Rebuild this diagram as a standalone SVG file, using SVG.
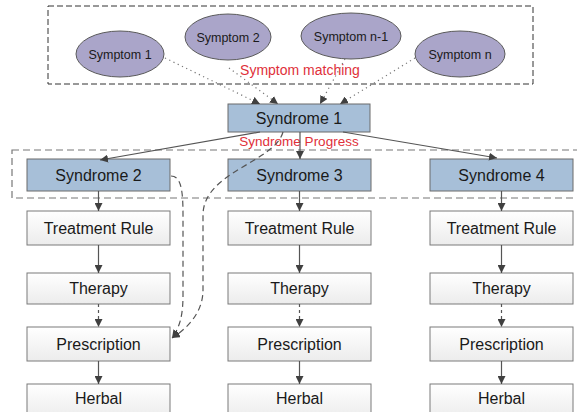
<svg xmlns="http://www.w3.org/2000/svg" width="577" height="412" viewBox="0 0 577 412">
<defs>
<linearGradient id="wg" x1="0" y1="0" x2="0" y2="1"><stop offset="0" stop-color="#ffffff"/><stop offset="1" stop-color="#ececec"/></linearGradient>
<marker id="ah" markerUnits="userSpaceOnUse" markerWidth="9" markerHeight="8" refX="8" refY="4" orient="auto"><path d="M0,0 L8,4 L0,8 z" fill="#404040"/></marker>
<style>
.ell{fill:#aaa5c9;stroke:#5a5a5a;stroke-width:1}
.syn{fill:#a7bfd8;stroke:#6b6b6b;stroke-width:1}
.box{fill:url(#wg);stroke:#7a7a7a;stroke-width:1}
.t{font-family:"Liberation Sans",Arial,sans-serif;fill:#1a1a1a;text-anchor:middle}
.ts{font-size:12.5px}
.tb{font-size:16px}
.red{font-family:"Liberation Sans",Arial,sans-serif;fill:#e0303a;text-anchor:middle}
.ln{fill:none;stroke:#555;stroke-width:1.2;marker-end:url(#ah)}
.dt{fill:none;stroke:#777;stroke-width:1.2;stroke-dasharray:1.2,3.5;marker-end:url(#ah)}
.ds{fill:none;stroke:#555;stroke-width:1.2;stroke-dasharray:3,3;marker-end:url(#ah)}
.dc{fill:none;stroke:#555;stroke-width:1.2;stroke-dasharray:6,4;marker-end:url(#ah)}
.frame{fill:none;stroke:#333;stroke-width:1;stroke-dasharray:6,3}
.frame2{fill:none;stroke:#777;stroke-width:1.2;stroke-dasharray:7,4}
</style>
</defs>
<rect class="frame" x="48" y="6" width="485" height="78"/>
<rect class="frame2" x="12" y="150" width="570" height="48"/>
<g id="symptom1"><ellipse class="ell" cx="120" cy="54" rx="44" ry="23"/><text class="t ts" x="120" y="58.5">Symptom 1</text></g>
<g id="symptom2"><ellipse class="ell" cx="228" cy="37" rx="43" ry="23"/><text class="t ts" x="228" y="41.5">Symptom 2</text></g>
<g id="symptomn1"><ellipse class="ell" cx="351" cy="36" rx="50" ry="23"/><text class="t ts" x="351" y="40.5">Symptom n-1</text></g>
<g id="symptomn"><ellipse class="ell" cx="460" cy="54" rx="45" ry="23"/><text class="t ts" x="460" y="58.5">Symptom n</text></g>
<text class="red" font-size="14" x="300" y="75">Symptom matching</text>
<g id="syndrome1"><rect class="syn" x="228" y="104" width="142" height="28"/><text class="t tb" x="299" y="124">Syndrome 1</text></g>
<text class="red" font-size="13.5" x="299" y="146">Syndrome Progress</text>
<g id="syndrome2"><rect class="syn" x="27" y="159" width="143" height="32"/><text class="t tb" x="98.5" y="181">Syndrome 2</text></g>
<g id="syndrome3"><rect class="syn" x="228" y="159" width="143" height="32"/><text class="t tb" x="299.5" y="181">Syndrome 3</text></g>
<g id="syndrome4"><rect class="syn" x="430" y="159" width="143" height="32"/><text class="t tb" x="501.5" y="181">Syndrome 4</text></g>
<g id="rule1"><rect class="box" x="27" y="211" width="143" height="34"/><text class="t tb" x="98.5" y="233.5">Treatment Rule</text></g>
<g id="rule2"><rect class="box" x="228" y="211" width="143" height="34"/><text class="t tb" x="299.5" y="233.5">Treatment Rule</text></g>
<g id="rule3"><rect class="box" x="430" y="211" width="143" height="34"/><text class="t tb" x="501.5" y="233.5">Treatment Rule</text></g>
<g id="therapy1"><rect class="box" x="27" y="273" width="143" height="31"/><text class="t tb" x="98.5" y="294">Therapy</text></g>
<g id="therapy2"><rect class="box" x="228" y="273" width="143" height="31"/><text class="t tb" x="299.5" y="294">Therapy</text></g>
<g id="therapy3"><rect class="box" x="430" y="273" width="143" height="31"/><text class="t tb" x="501.5" y="294">Therapy</text></g>
<g id="presc1"><rect class="box" x="27" y="327" width="143" height="34"/><text class="t tb" x="98.5" y="349.5">Prescription</text></g>
<g id="presc2"><rect class="box" x="228" y="327" width="143" height="34"/><text class="t tb" x="299.5" y="349.5">Prescription</text></g>
<g id="presc3"><rect class="box" x="430" y="327" width="143" height="34"/><text class="t tb" x="501.5" y="349.5">Prescription</text></g>
<g id="herbal1"><rect class="box" x="27" y="384" width="143" height="34"/><text class="t tb" x="98.5" y="404">Herbal</text></g>
<g id="herbal2"><rect class="box" x="228" y="384" width="143" height="34"/><text class="t tb" x="299.5" y="404">Herbal</text></g>
<g id="herbal3"><rect class="box" x="430" y="384" width="143" height="34"/><text class="t tb" x="501.5" y="404">Herbal</text></g>
<g id="connectors">
<path class="dt" d="M165,58 L260,104"/>
<path class="dt" d="M229,68 L278,104"/>
<path class="dt" d="M345,59 L320,104"/>
<path class="dt" d="M415,58 L340,104"/>
<path class="ln" d="M260,132 L100,160"/>
<path class="ln" d="M300,132 L300,159"/>
<path class="ln" d="M343,132 L497,158"/>
<path class="ln" d="M98.5,191 L98.5,211"/>
<path class="ln" d="M299.5,191 L299.5,211"/>
<path class="ln" d="M501.5,191 L501.5,211"/>
<path class="ln" d="M98.5,245 L98.5,273"/>
<path class="ln" d="M299.5,245 L299.5,273"/>
<path class="ln" d="M501.5,245 L501.5,273"/>
<path class="ds" d="M98.5,304 L98.5,327"/>
<path class="ds" d="M299.5,304 L299.5,327"/>
<path class="ds" d="M501.5,304 L501.5,327"/>
<path class="ln" d="M98.5,361 L98.5,384"/>
<path class="ln" d="M299.5,361 L299.5,384"/>
<path class="ln" d="M501.5,361 L501.5,384"/>
<path class="dc" d="M171,176 C181,176 183,190 183,215 L183,295 C183,315 180,327 172,338"/>
<path class="dc" d="M283,132 C275,162 203,172 203,215 L203,290 C203,312 188,328 172,338"/>
</g>
</svg>
